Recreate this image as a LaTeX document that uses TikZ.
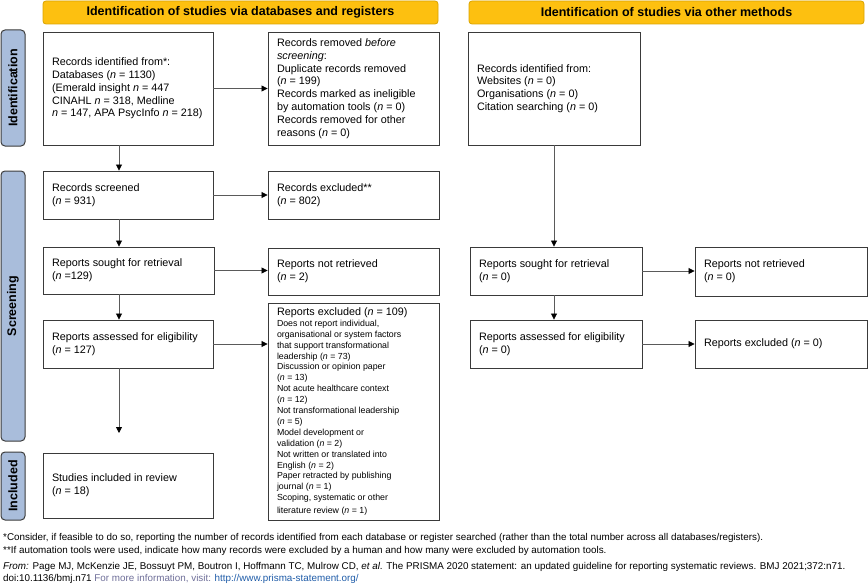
\documentclass[tikz,border=0pt]{standalone}
\usepackage{fontspec}
\setmainfont{Liberation Sans}
\usetikzlibrary{arrows.meta}
\definecolor{hdrfill}{HTML}{FDC010}
\definecolor{hdrline}{HTML}{D9A300}
\definecolor{lblfill}{HTML}{A9BDDB}
\definecolor{lblline}{HTML}{3C3C3C}
\definecolor{boxline}{HTML}{3A3A3A}
\definecolor{arrline}{HTML}{5A5A5A}
\definecolor{infogray}{HTML}{6F6F99}
\definecolor{urlblue}{HTML}{1F5CA8}
\tikzset{
  box/.style={draw=boxline, line width=0.9pt, align=left, inner xsep=9pt, inner ysep=0pt,
    font=\fontsize{10.8}{12.8}\selectfont},
  hdr/.style={draw=hdrline, fill=hdrfill, rounded corners=3pt, line width=0.8pt, inner sep=0pt,
    font=\bfseries\fontsize{12.5}{14}\selectfont},
  lbl/.style={draw=lblline, fill=lblfill, rounded corners=4pt, line width=1pt, inner sep=0pt,
    rotate=90, font=\bfseries\fontsize{12.5}{14}\selectfont},
  arr/.style={draw=arrline, line width=0.8pt, -{Triangle[length=6pt,width=6pt,color=black]}},
  foot/.style={anchor=base west, inner sep=0pt, font=\fontsize{9.85}{11}\selectfont}
}
\newcommand\smalltxt{\fontsize{8.8}{10.9}\selectfont}
\newcommand\bx[6]{%
  \pgfmathsetmacro\bw{#4-#2}\pgfmathsetmacro\bh{#5-#3}\pgfmathsetmacro\tw{#4-#2-18}%
  \pgfmathsetmacro\cx{(#2+#4)/2}\pgfmathsetmacro\cy{(#3+#5)/2}%
  \node[box, minimum width=\bw pt, minimum height=\bh pt, text width=\tw pt] (#1) at (\cx,\cy) {\spaceskip=0pt\xspaceskip=0pt #6};}
\newcommand\nn{\textit{n}}
\begin{document}
\begin{tikzpicture}[x=1pt,y=-1pt]
\useasboundingbox (0,0) rectangle (868,586);
% headers
\node[hdr, minimum width=395pt, minimum height=23pt] (h1) at (240.5,12.5) {Identification of studies via databases and registers};
\node[hdr, minimum width=395pt, minimum height=23pt] (h2) at (666.5,12.5) {Identification of studies via other methods};
% side labels
\node[lbl, minimum width=116pt, minimum height=24pt] (l1) at (13,88) {Identification};
\node[lbl, minimum width=270pt, minimum height=24pt] (l2) at (13,306) {Screening};
\node[lbl, minimum width=68pt, minimum height=24pt] (l3) at (13,486) {Included};
% left column
\bx{id1}{43}{32}{213}{145}{Records identified from*:\\ Databases (\nn{} = 1130)\\ (Emerald insight \nn{} = 447\\ CINAHL \nn{} = 318, Medline\\ \nn{} = 147, APA PsycInfo \nn{} = 218)}
\bx{rem}{268}{32}{439}{145}{Records removed \textit{before}\\ \textit{screening}:\\ Duplicate records removed\\ (\nn{} = 199)\\ Records marked as ineligible\\ by automation tools (\nn{} = 0)\\ Records removed for other\\ reasons (\nn{} = 0)}
\bx{scr}{43}{171}{213}{219}{Records screened\\ (\nn{} = 931)}
\bx{exc1}{268}{171}{439}{219}{Records excluded**\\ (\nn{} = 802)}
\bx{sought}{43}{247}{214}{294}{Reports sought for retrieval\\ (\nn{} =129)}
\bx{notret}{268}{248}{439}{295}{Reports not retrieved\\ (\nn{} = 2)}
\bx{assess}{43}{320}{213}{368}{Reports assessed for eligibility\\ (\nn{} = 127)}
\bx{exc2}{268}{303}{439}{520}{Reports excluded (\nn{} = 109)\\ \smalltxt Does not report individual,\\ organisational or system factors\\ that support transformational\\ leadership (\nn{} = 73)\\ Discussion or opinion paper\\ (\nn{} = 13)\\ Not acute healthcare context\\ (\nn{} = 12)\\ Not transformational leadership\\ (\nn{} = 5)\\ Model development or\\ validation (\nn{} = 2)\\ Not written or translated into\\ English (\nn{} = 2)\\ Paper retracted by publishing\\ journal (\nn{} = 1)\\ Scoping, systematic or other\\ literature review (\nn{} = 1)}
\bx{incl}{43}{453}{213}{518}{Studies included in review\\ (\nn{} = 18)}
% right column
\bx{oid}{468}{32}{640}{145}{Records identified from:\\ Websites (\nn{} = 0)\\ Organisations (\nn{} = 0)\\ Citation searching (\nn{} = 0)}
\bx{osought}{470}{247}{642}{295}{Reports sought for retrieval\\ (\nn{} = 0)}
\bx{onotret}{695}{247}{867}{296}{Reports not retrieved\\ (\nn{} = 0)}
\bx{oassess}{470}{320}{642}{368}{Reports assessed for eligibility\\ (\nn{} = 0)}
\bx{oexc}{695}{320}{867}{368}{Reports excluded (\nn{} = 0)}
% connectors
\coordinate (vx) at (119,0);
\coordinate (vx2) at (554,0);
\coordinate (inclend) at (119,433);
\draw[arr] (id1.east) -- (rem.west);
\draw[arr] (id1.south -| vx) -- (scr.north -| vx);
\draw[arr] (scr.east) -- (exc1.west);
\draw[arr] (scr.south -| vx) -- (sought.north -| vx);
\draw[arr] (sought.east) -- (notret.west |- sought.east);
\draw[arr] (sought.south -| vx) -- (assess.north -| vx);
\draw[arr] (assess.east) -- (exc2.west |- assess.east);
\draw[arr] (assess.south -| vx) -- (inclend);
\draw[arr] (oid.south -| vx2) -- (osought.north -| vx2);
\draw[arr] (osought.east) -- (onotret.west |- osought.east);
\draw[arr] (osought.south -| vx2) -- (oassess.north -| vx2);
\draw[arr] (oassess.east) -- (oexc.west |- oassess.east);
% footer
\node[foot] (f1) at (3,540) {*Consider, if feasible to do so, reporting the number of records identified from each database or register searched (rather than the total number across all databases/registers).};
\node[foot] (f2) at (3,553) {**If automation tools were used, indicate how many records were excluded by a human and how many were excluded by automation tools.};
\node[foot] (f3) at (3,569) {\textit{From:} Page MJ, McKenzie JE, Bossuyt PM, Boutron I, Hoffmann TC, Mulrow CD, \textit{et al}. The PRISMA 2020 statement: an updated guideline for reporting systematic reviews. BMJ 2021;372:n71.};
\node[foot] (f4) at (3,581) {doi:10.1136/bmj.n71 \textcolor{infogray}{For more information, visit:} \textcolor{urlblue}{http://www.prisma-statement.org/}};
\end{tikzpicture}
\end{document}
